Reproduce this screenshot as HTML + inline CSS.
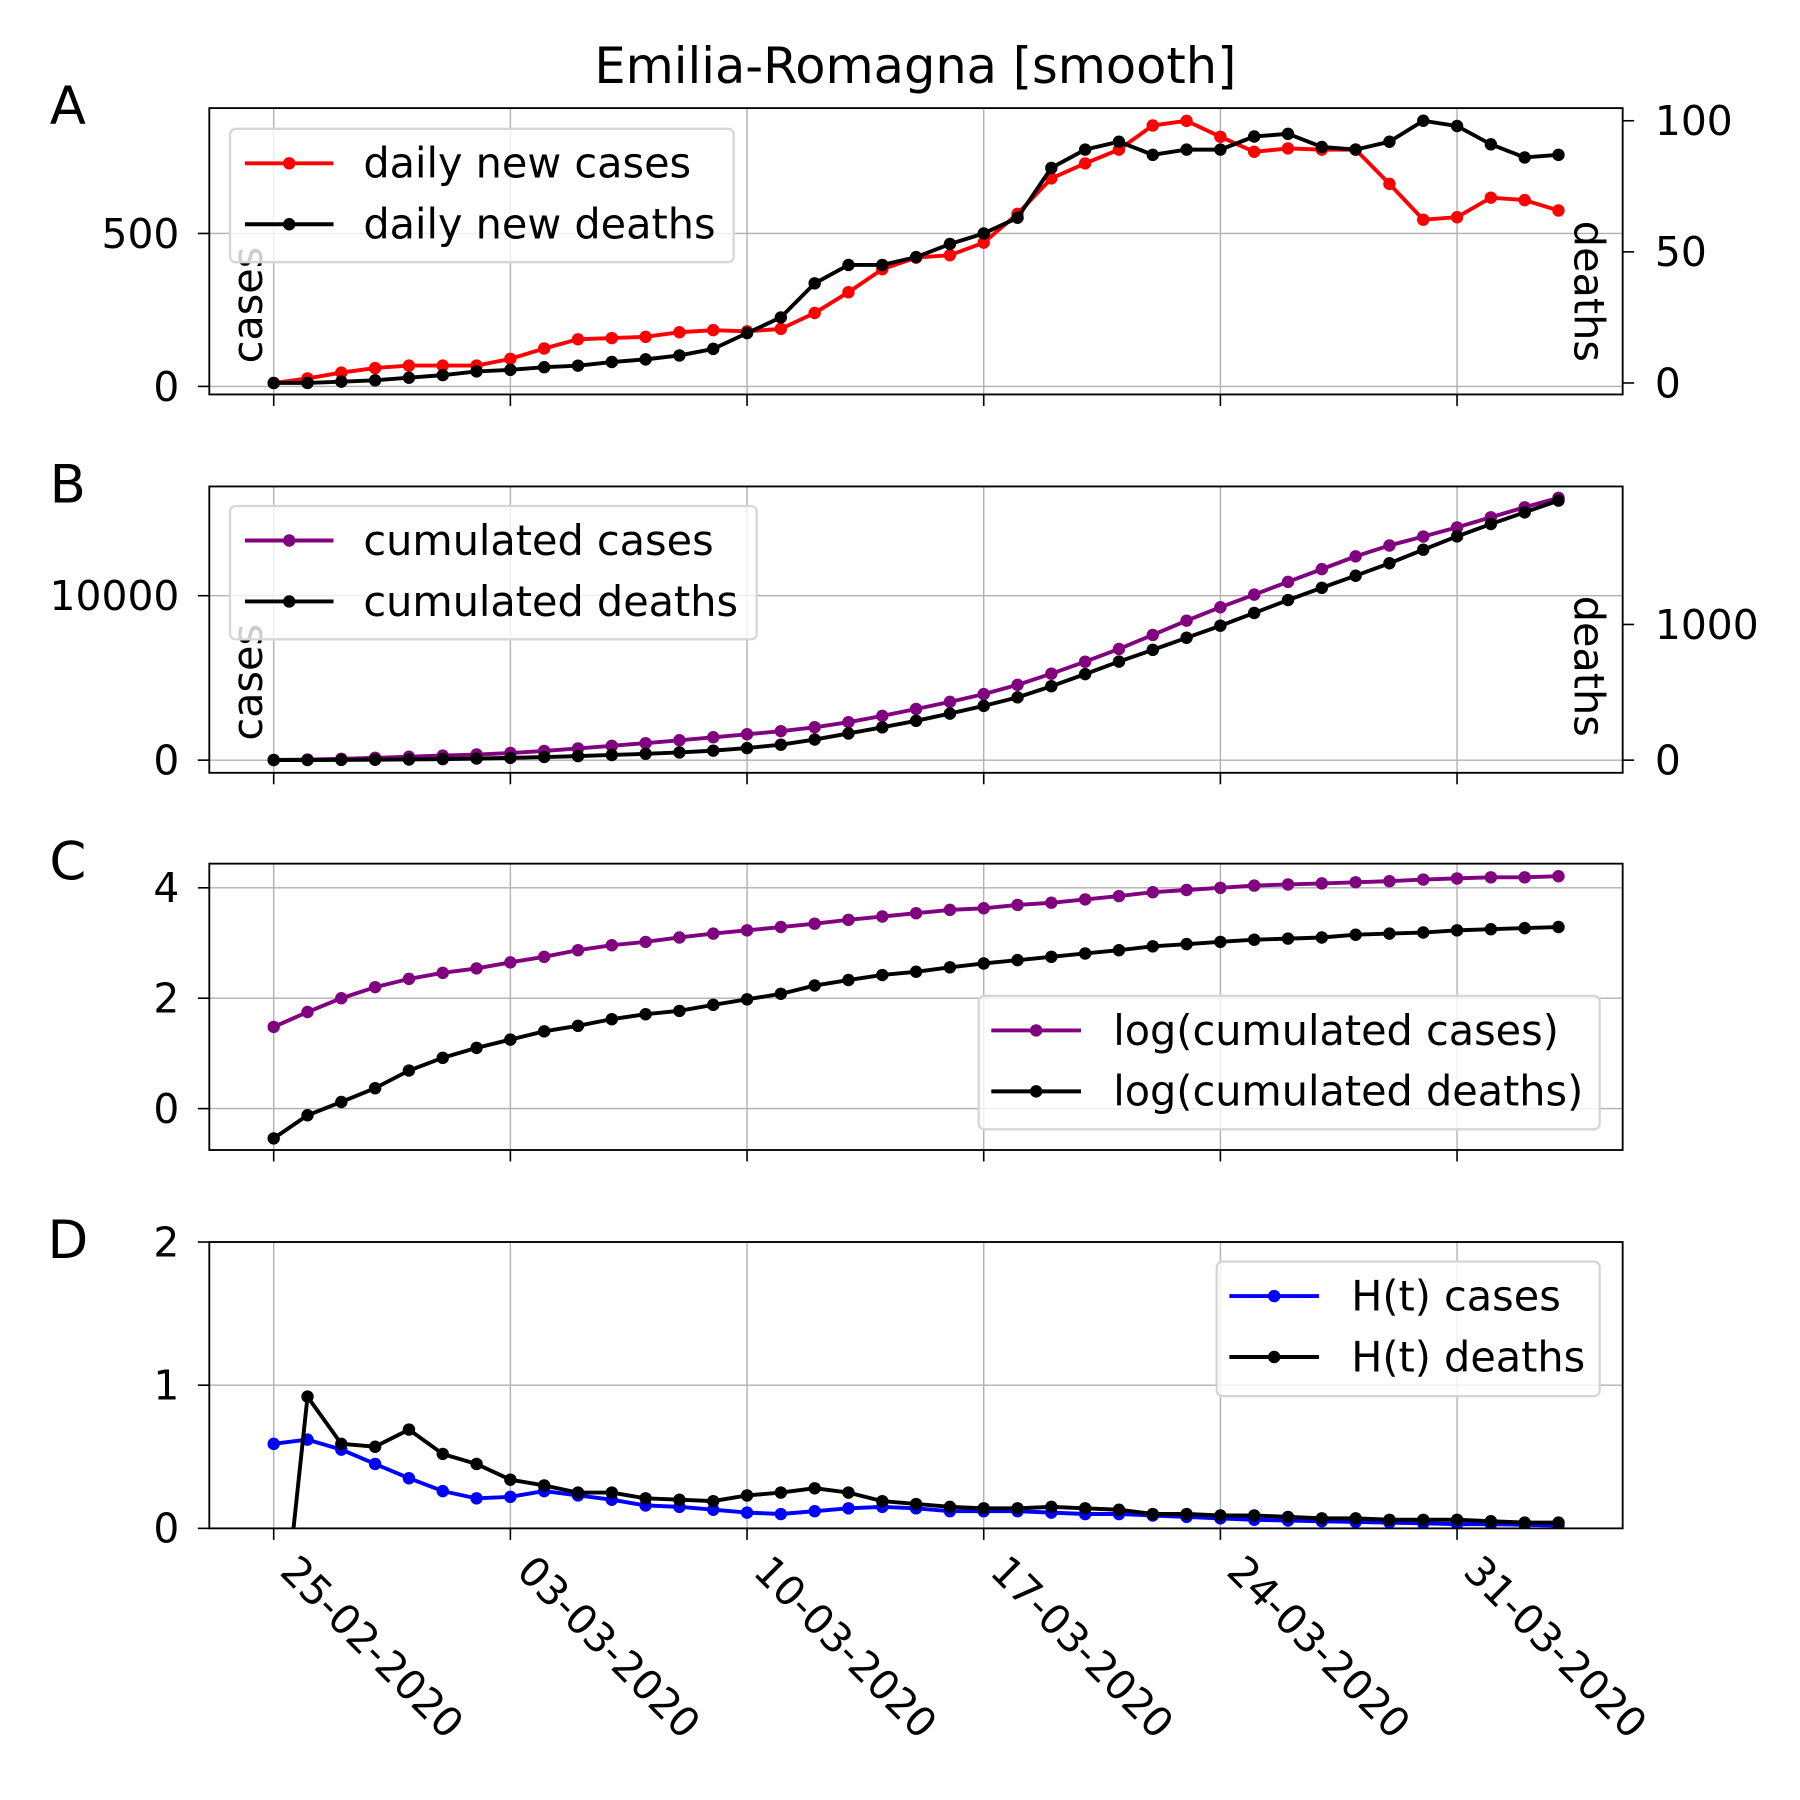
<!DOCTYPE html>
<html><head><meta charset="utf-8"><style>html,body{margin:0;padding:0;background:#fff}svg{display:block}text{font-family:"DejaVu Sans","Liberation Sans",sans-serif}</style></head>
<body>
<svg id="chart" width="1800" height="1800" viewBox="0 0 1565.2 1565.2" xmlns="http://www.w3.org/2000/svg"></svg>
<script>
const dateTicks = ["25-02-2020","03-03-2020","10-03-2020","17-03-2020","24-03-2020","31-03-2020"];
const dailyCases = [11,26,45,60,68,68,68,90,124,154,158,162,177,184,180,188,240,308,383,421,429,470,564,680,729,774,853,868,816,767,778,774,774,662,545,553,617,609,575];
const dailyDeaths = [0,0,0.5,1,2,3,4.4,5,6,6.6,8,9,10.5,13,19,25,38,45,45,48,53,57,63,82,89,92,87,89,89,94,95,90,89,92,100,98,91,86,87];
const cumCases = [11,37,82,142,210,278,346,436,560,714,872,1034,1211,1395,1575,1763,2003,2311,2694,3115,3544,4014,4578,5258,5987,6761,7614,8482,9298,10065,10843,11617,12391,13053,13598,14151,14768,15377,15952];
const cumDeaths = [1,1,2,3,5,8,12,17,23,30,38,47,57,70,89,114,152,197,242,290,343,400,463,545,634,726,813,902,991,1085,1180,1270,1359,1451,1551,1649,1740,1826,1913];
const logCases = [1.48,1.75,2.0,2.2,2.35,2.46,2.54,2.65,2.75,2.87,2.96,3.02,3.1,3.17,3.23,3.29,3.35,3.42,3.48,3.54,3.6,3.63,3.69,3.73,3.79,3.85,3.92,3.96,4.0,4.04,4.06,4.08,4.1,4.12,4.15,4.17,4.19,4.19,4.21];
const logDeaths = [-0.54,-0.12,0.12,0.37,0.69,0.92,1.1,1.25,1.4,1.5,1.62,1.71,1.77,1.88,1.98,2.08,2.23,2.33,2.42,2.48,2.56,2.63,2.69,2.75,2.81,2.87,2.94,2.98,3.02,3.06,3.08,3.1,3.15,3.17,3.19,3.23,3.25,3.27,3.29];
const hCases = [0.59,0.62,0.55,0.45,0.35,0.26,0.21,0.22,0.26,0.23,0.2,0.16,0.15,0.13,0.11,0.1,0.12,0.14,0.15,0.14,0.12,0.12,0.12,0.11,0.1,0.1,0.09,0.08,0.07,0.06,0.055,0.05,0.045,0.04,0.035,0.03,0.03,0.025,0.02];
const hDeaths = [-1.3,0.92,0.59,0.57,0.69,0.52,0.45,0.34,0.3,0.25,0.25,0.21,0.2,0.19,0.23,0.25,0.28,0.25,0.19,0.17,0.15,0.14,0.14,0.15,0.14,0.13,0.1,0.1,0.09,0.09,0.08,0.07,0.07,0.06,0.06,0.06,0.05,0.04,0.04];

const svg = document.getElementById('chart');
const NS = 'http://www.w3.org/2000/svg';
function mk(tag, attrs, parent, txt){const e=document.createElementNS(NS,tag);for(const k in attrs)e.setAttribute(k,attrs[k]);if(txt!==undefined)e.textContent=txt;(parent||svg).appendChild(e);return e;}
const L=182,R=1411;
const xs = i => 238 + i*(1267-238)/35;
const TF=35.5, LF=36, TL=10;

function panel(id,top,bot,letter){
  const g=mk('g',{});
  
  
  const cp=mk('clipPath',{id:'clip'+id},g);
  mk('rect',{x:L,y:top,width:R-L,height:bot-top},cp);
  for(let k=0;k<6;k++){
    const x=xs(k*7);
    const gl=mk('line',{x1:x,y1:top,x2:x,y2:bot,stroke:'#b0b0b0','stroke-width':1.2},g);
    
    
    mk('line',{x1:x,y1:bot,x2:x,y2:bot+TL,stroke:'#000','stroke-width':1.4},g);
  }
  const t=mk('text',{x:59,y:top+14,'font-size':46,'text-anchor':'middle'},g,letter);
  
  
  return g;
}
function frame(g,top,bot){mk('rect',{x:L,y:top,width:R-L,height:bot-top,fill:'none',stroke:'#000','stroke-width':1.6},g);}
function yTicks(g,top,bot,ys,vals,labels,side){
  vals.forEach((v,i)=>{
    const y=ys(v);
    if(side==='left'){
      const gl=mk('line',{x1:L,y1:y,x2:R,y2:y,stroke:'#b0b0b0','stroke-width':1.2},g);
      
      
      mk('line',{x1:L-TL,y1:y,x2:L,y2:y,stroke:'#000','stroke-width':1.4},g);
      const t=mk('text',{x:L-26,y:y+12.5,'font-size':TF,'text-anchor':'end'},g,labels[i]);
      
      
    } else {
      mk('line',{x1:R,y1:y,x2:R+TL,y2:y,stroke:'#000','stroke-width':1.4},g);
      const t=mk('text',{x:R+28,y:y+12.5,'font-size':TF,'text-anchor':'start'},g,labels[i]);
      
      
    }
  });
}
function series(g,id,vals,ys,color,name){
  const s=mk('g',{'clip-path':'url(#clip'+id+')'},g);
  
  
  const pts=vals.map((v,i)=>xs(i).toFixed(1)+','+ys(v).toFixed(1)).join(' ');
  mk('polyline',{points:pts,fill:'none',stroke:color,'stroke-width':3.4,'stroke-linejoin':'round'},s);
  vals.forEach((v,i)=>{
    const c=mk('circle',{cx:xs(i),cy:ys(v),r:5.4,fill:color},s);
    
    
  });
}
function legend(g,x,y,w,h,entries,lx1,lx2,tx){
  const lg=mk('g',{},g);
  
  
  mk('rect',{x:x,y:y,width:w,height:h,rx:5,fill:'#fff','fill-opacity':0.8,stroke:'#d6d6d6','stroke-width':2},lg);
  entries.forEach((e,i)=>{
    const ey=y+30+i*53;
    const eg=mk('g',{},lg);
    
    
    mk('line',{x1:lx1,y1:ey,x2:lx2,y2:ey,stroke:e[1],'stroke-width':3.4},eg);
    mk('circle',{cx:(lx1+lx2)/2,cy:ey,r:5.4,fill:e[1]},eg);
    mk('text',{x:tx,y:ey+12.5,'font-size':LF},eg,e[0]);
  });
}
function axLabel(g,x,y,txt,rot,name){
  const t=mk('text',{x:x,y:y,'font-size':LF,'text-anchor':'start',transform:'rotate('+rot+' '+x+' '+y+')'},g,txt);
  
  
}

const title=mk('text',{x:796,y:72,'font-size':43,'text-anchor':'middle'},svg,'Emilia-Romagna [smooth]');



// Panel A
{const top=94,bot=343;const g=panel('A',top,bot,'A');
 const ya=v=>336-v*0.266;const yb=v=>333-v*2.28;
 yTicks(g,top,bot,ya,[0,500],['0','500'],'left');
 yTicks(g,top,bot,yb,[0,50,100],['0','50','100'],'right');
 axLabel(g,228,316,'cases',-90,'y-axis-title-cases');
 axLabel(g,1369,192,'deaths',90,'y2-axis-title-deaths');
 series(g,'A',dailyCases,ya,'#ff0000','daily-cases-line');
 series(g,'A',dailyDeaths,yb,'#000000','daily-deaths-line');
 frame(g,top,bot);
 legend(g,200,112,438,116,[['daily new cases','#ff0000'],['daily new deaths','#000000']],213,290,316);}

// Panel B
{const top=423,bot=672;const g=panel('B',top,bot,'B');
 const ya=v=>661-v*0.0143;const yb=v=>661-v*0.118;
 yTicks(g,top,bot,ya,[0,10000],['0','10000'],'left');
 yTicks(g,top,bot,yb,[0,1000],['0','1000'],'right');
 axLabel(g,228,644,'cases',-90,'y-axis-title-cases');
 axLabel(g,1369,518,'deaths',90,'y2-axis-title-deaths');
 series(g,'B',cumCases,ya,'#800080','cumulated-cases-line');
 series(g,'B',cumDeaths,yb,'#000000','cumulated-deaths-line');
 frame(g,top,bot);
 legend(g,200,440,458,116,[['cumulated cases','#800080'],['cumulated deaths','#000000']],213,290,316);}

// Panel C
{const top=751,bot=1000;const g=panel('C',top,bot,'C');
 const ya=v=>964-v*48;
 yTicks(g,top,bot,ya,[0,2,4],['0','2','4'],'left');
 series(g,'C',logCases,ya,'#800080','log-cases-line');
 series(g,'C',logDeaths,ya,'#000000','log-deaths-line');
 frame(g,top,bot);
 legend(g,851,866,540,116,[['log(cumulated cases)','#800080'],['log(cumulated deaths)','#000000']],862,940,968);}

// Panel D
{const top=1080,bot=1329;const g=panel('D',top,bot,'D');
 const ya=v=>1329-v*124.5;
 yTicks(g,top,bot,ya,[0,1,2],['0','1','2'],'left');
 series(g,'D',hCases,ya,'#0000ff','h-cases-line');
 series(g,'D',hDeaths,ya,'#000000','h-deaths-line');
 frame(g,top,bot);
 legend(g,1058,1097,333,117,[['H(t) cases','#0000ff'],['H(t) deaths','#000000']],1069,1147,1175);
 dateTicks.forEach((d,k)=>{
   const x=xs(k*7)+4,y=1368;
   const t=mk('text',{x:x,y:y,'font-size':TF,transform:'rotate(45 '+x+' '+y+')'},g,d);
   
   
 });}
</script>
</body></html>
